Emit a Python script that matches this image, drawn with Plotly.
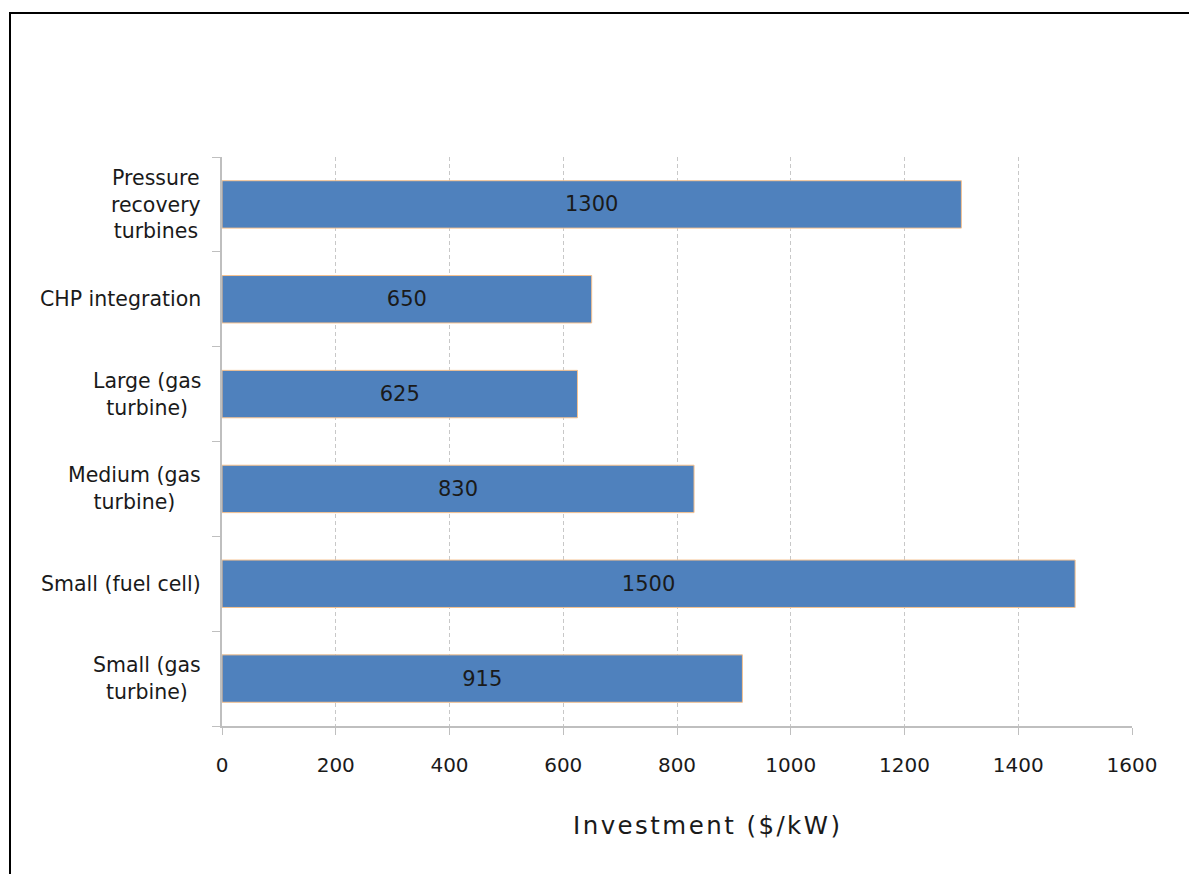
import plotly.graph_objects as go

categories = ["Small (gas turbine)", "Small (fuel cell)", "Medium (gas turbine)",
              "Large (gas turbine)", "CHP integration", "Pressure recovery turbines"]
tick_labels = ["Small (gas<br>turbine)", "Small (fuel cell)", "Medium (gas<br>turbine)",
               "Large (gas<br>turbine)", "CHP integration", "Pressure<br>recovery<br>turbines"]
values = [915, 1500, 830, 625, 650, 1300]
x_ticks = [0, 200, 400, 600, 800, 1000, 1200, 1400, 1600]
x_title = "Investment ($/kW)"

FONT = "DejaVu Sans"
W, H = 1197, 874
L, R, T, B = 214, 73, 149, 156
pw, ph = W - L - R, H - T - B

def px2x(px):
    return (px - L) / pw

def px2y(py):
    return (H - B - py) / ph

# emulate letter spacing with hair spaces
spaced_title = "\u200a".join(list(x_title))

fig = go.Figure()
fig.add_trace(go.Bar(
    y=categories, x=values, orientation="h",
    marker=dict(color="#4f81bd", line=dict(color="#f7c28e", width=1)),
    text=[str(v) for v in values], textposition="inside", insidetextanchor="middle",
    textfont=dict(family=FONT, size=21, color="#1a1a1a"),
    width=0.5, cliponaxis=False,
))

annotations = []
for cat, lab in zip(categories, tick_labels):
    annotations.append(dict(
        x=px2x(195), xref="paper", y=cat, yref="y", text=lab, showarrow=False,
        xanchor="right", yanchor="middle", align="center",
        font=dict(family=FONT, size=20.5, color="#1a1a1a"),
    ))
annotations.append(dict(
    x=px2x(698), xref="paper", y=px2y(817), yref="paper",
    text=spaced_title, showarrow=False, xanchor="center", yanchor="middle",
    font=dict(family=FONT, size=24.5, color="#1a1a1a"),
))

fig.update_layout(
    width=W, height=H,
    margin=dict(l=L, r=R, t=T, b=B, pad=0),
    paper_bgcolor="white", plot_bgcolor="white",
    showlegend=False,
    annotations=annotations,
    shapes=[dict(type="rect", xref="paper", yref="paper",
                 x0=px2x(2), x1=px2x(1230), y0=px2y(900), y1=px2y(5),
                 line=dict(color="black", width=2), fillcolor="rgba(0,0,0,0)", layer="above")],
    xaxis=dict(
        range=[0, 1600], tickvals=x_ticks, ticktext=[str(t) for t in x_ticks],
        showgrid=True, gridcolor="#c8c8c8", griddash="4px,3px", gridwidth=1,
        zeroline=False, showline=True, linecolor="#bfbfbf", linewidth=2,
        ticks="outside", ticklen=7, tickcolor="#bfbfbf", tickwidth=1,
        tickfont=dict(family=FONT, size=20, color="#1a1a1a"),
        ticklabelstandoff=13,
    ),
    yaxis=dict(
        categoryorder="array", categoryarray=categories,
        showticklabels=False, showgrid=False, zeroline=False,
        showline=True, linecolor="#bfbfbf", linewidth=2,
        ticks="outside", ticklen=8, tickcolor="#bfbfbf", tickwidth=1,
        tickson="boundaries",
    ),
)

fig.write_html("out.html")
